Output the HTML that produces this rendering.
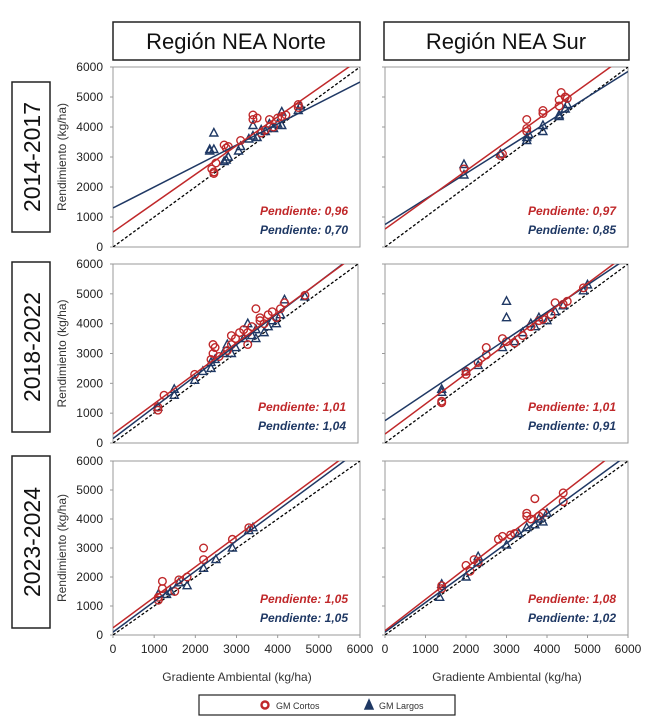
<!DOCTYPE html>
<html><head><meta charset="utf-8">
<style>
body{margin:0;background:#fff;width:653px;height:724px;overflow:hidden;font-family:"Liberation Sans",sans-serif;}
svg{display:block}
</style></head>
<body>
<svg id="chart" width="653" height="724" viewBox="0 0 653 724">
<rect x="113" y="22" width="247" height="38" fill="#fff" stroke="#222" stroke-width="1.5"/>
<text x="236" y="49" text-anchor="middle" font-size="22" fill="#111">Región NEA Norte</text>
<rect x="384" y="22" width="245" height="38" fill="#fff" stroke="#222" stroke-width="1.5"/>
<text x="506" y="49" text-anchor="middle" font-size="22" fill="#111">Región NEA Sur</text>
<rect x="12" y="82" width="38" height="150" fill="#fff" stroke="#222" stroke-width="1.5"/>
<text transform="translate(40,157) rotate(-90)" text-anchor="middle" font-size="23" fill="#111">2014-2017</text>
<rect x="12" y="262" width="38" height="170" fill="#fff" stroke="#222" stroke-width="1.5"/>
<text transform="translate(40,347) rotate(-90)" text-anchor="middle" font-size="23" fill="#111">2018-2022</text>
<rect x="12" y="456" width="38" height="172" fill="#fff" stroke="#222" stroke-width="1.5"/>
<text transform="translate(40,542) rotate(-90)" text-anchor="middle" font-size="23" fill="#111">2023-2024</text>
<text x="237" y="681" text-anchor="middle" font-size="12" fill="#333">Gradiente Ambiental (kg/ha)</text>
<text x="507" y="681" text-anchor="middle" font-size="12" fill="#333">Gradiente Ambiental (kg/ha)</text>
<g>
<rect x="199" y="695" width="256" height="20" fill="#fff" stroke="#222" stroke-width="1.2"/>
<circle cx="265" cy="705" r="3.5" fill="none" stroke="#c0282a" stroke-width="2.4"/>
<text x="276" y="709" font-size="9" fill="#333">GM Cortos</text>
<polygon points="369,700 365,709 373,709" fill="#1f3864" stroke="#1f3864" stroke-width="1.5"/>
<text x="379" y="709" font-size="9" fill="#333">GM Largos</text>
</g>
<g id="panels"></g>
</svg>
<script>
const yTicks = [0,1000,2000,3000,4000,5000,6000];
const xTicks = [0,1000,2000,3000,4000,5000,6000];
const slopesRed = [0.96,0.97,1.01,1.01,1.05,1.08];
const slopesBlue = [0.70,0.85,1.04,0.91,1.05,1.02];
const interceptsRed = [500,600,300,300,250,150];
const interceptsBlue = [1300,750,150,750,100,100];
const slopeLabelsRed = ["0,96","0,97","1,01","1,01","1,05","1,08"];
const slopeLabelsBlue = ["0,70","0,85","1,04","0,91","1,05","1,02"];
const circles0 = [[2400,2600],[2450,2450],[2500,2800],[2450,2500],[2700,3400],[2750,3300],[2800,3350],[3100,3550],[3400,4400],[3400,4250],[3500,4300],[3600,3800],[3700,3900],[3800,4250],[3900,4000],[4000,4300],[4100,4350],[4200,4400],[4500,4750],[4500,4650]];
const triangles0 = [[2350,3200],[2450,3800],[2450,3250],[2350,3250],[2700,2850],[2750,2900],[2800,3000],[3050,3200],[3100,3350],[3300,3600],[3400,3700],[3400,4050],[3500,3650],[3600,3900],[3700,3850],[3800,4100],[3900,3950],[4000,4100],[4100,4500],[4100,4050],[4500,4550],[4550,4700]];
const circles1 = [[1950,2600],[2850,3050],[2900,3100],[3500,4250],[3500,3950],[3500,3850],[3900,4450],[3900,4550],[4300,4700],[4350,5150],[4450,5000],[4500,4950],[4300,4900]];
const triangles1 = [[1950,2750],[1950,2400],[2850,3100],[3500,3650],[3500,3550],[3550,3750],[3900,3850],[3900,4050],[4300,4400],[4300,4350],[4450,4600],[4500,4750]];
const circles2 = [[1100,1200],[1100,1100],[1250,1600],[2000,2300],[2400,2800],[2450,3000],[2450,3300],[2500,3200],[2600,2900],[2800,3100],[2900,3300],[3000,3500],[3100,3700],[3200,3800],[3300,3700],[3400,3900],[3500,4500],[3600,4100],[3600,4200],[3700,4000],[3800,4300],[3900,4400],[4000,4200],[4100,4500],[4200,4700],[4700,4950],[3300,3300],[2900,3600]];
const triangles2 = [[1100,1200],[1500,1600],[1500,1800],[2000,2100],[2200,2400],[2400,2500],[2400,2700],[2500,2800],[2700,3000],[2800,3300],[2900,3000],[3000,3200],[3200,3500],[3300,4000],[3400,3600],[3500,3500],[3500,3800],[3700,3700],[3800,3900],[3900,4100],[4000,4000],[4100,4300],[4200,4800],[4700,4900]];
const circles3 = [[1400,1400],[1400,1350],[2000,2400],[2000,2300],[2300,2700],[2500,3200],[2500,2950],[2900,3500],[3000,3400],[3200,3350],[3400,3600],[3600,3900],[3800,4100],[3900,4150],[4100,4300],[4200,4700],[4400,4650],[4500,4750],[4900,5200]];
const triangles3 = [[1400,1800],[1400,1700],[2000,2400],[2300,2600],[2900,3200],[3000,4750],[3000,4200],[3200,3400],[3400,3700],[3600,4000],[3700,3900],[3800,4200],[4000,4100],[4200,4400],[4400,4600],[4900,5100],[5000,5300]];
const circles4 = [[1100,1300],[1100,1200],[1200,1850],[1200,1600],[1500,1500],[1600,1900],[1800,2000],[2200,3000],[2200,2600],[2900,3300],[3300,3700]];
const triangles4 = [[1100,1400],[1300,1400],[1400,1500],[1600,1800],[1800,1700],[2200,2300],[2500,2600],[2900,3000],[3300,3600],[3400,3700]];
const circles5 = [[1400,1700],[1400,1600],[2000,2400],[2100,2200],[2200,2600],[2300,2500],[2800,3300],[2900,3400],[3100,3450],[3200,3500],[3500,4100],[3500,4200],[3600,4000],[3700,4700],[3800,4100],[3900,4200],[4400,4900],[4400,4600]];
const triangles5 = [[1350,1300],[1400,1750],[2000,2000],[2300,2500],[2300,2700],[3000,3100],[3300,3500],[3500,3700],[3700,3800],[3800,4000],[3900,3900],[4000,4200]];
const allCircles=[circles0,circles1,circles2,circles3,circles4,circles5];
const allTriangles=[triangles0,triangles1,triangles2,triangles3,triangles4,triangles5];

const NS="http://www.w3.org/2000/svg";
const boxes=[
 {x0:113,x1:360,y0:67,y1:247},{x0:385,x1:628,y0:67,y1:247},
 {x0:113,x1:358,y0:264,y1:443},{x0:385,x1:628,y0:264,y1:443},
 {x0:113,x1:360,y0:461,y1:635},{x0:385,x1:628,y0:461,y1:635}];
const RED="#c0282a",BLUE="#1f3864";
const root=document.getElementById('panels');
function mk(tag,attrs,parent){const e=document.createElementNS(NS,tag);for(const k in attrs)e.setAttribute(k,attrs[k]);parent.appendChild(e);return e;}
boxes.forEach((b,i)=>{
 const g=mk('g',{},root);
 
 
 const sx=v=>b.x0+(v/6000)*(b.x1-b.x0);
 const sy=v=>b.y1-(v/6000)*(b.y1-b.y0);
 const cp='cp'+i;
 const d=mk('clipPath',{id:cp},g);mk('rect',{x:b.x0,y:b.y0,width:b.x1-b.x0,height:b.y1-b.y0},d);
 const fr=mk('rect',{x:b.x0,y:b.y0,width:b.x1-b.x0,height:b.y1-b.y0,fill:'#fff',stroke:'#999','stroke-width':1},g);
 
 
 const left=(i%2===0);
 yTicks.forEach(t=>{
  mk('line',{x1:b.x0-3,x2:b.x0,y1:sy(t),y2:sy(t),stroke:'#999'},g);
  if(left){const tx=mk('text',{x:b.x0-10,y:sy(t)+4,'text-anchor':'end','font-size':12,fill:'#222'},g);tx.textContent=t;
   
   }
 });
 if(left){const yt=mk('text',{transform:`translate(${b.x0-47},${(b.y0+b.y1)/2}) rotate(-90)`,'text-anchor':'middle','font-size':12,fill:'#333'},g);yt.textContent='Rendimiento (kg/ha)';
  
  }
 if(i>=4){xTicks.forEach(t=>{mk('line',{x1:sx(t),x2:sx(t),y1:b.y1,y2:b.y1+3,stroke:'#999'},g);
  const tx=mk('text',{x:sx(t),y:b.y1+18,'text-anchor':'middle','font-size':12,fill:'#222'},g);tx.textContent=t;
  
  });}
 const cg=mk('g',{'clip-path':`url(#${cp})`},g);
 const l1=mk('line',{x1:sx(0),y1:sy(0),x2:sx(6000),y2:sy(6000),stroke:'#000','stroke-width':1.3,'stroke-dasharray':'3,2'},cg);
 
 
 allTriangles[i].forEach(p=>{const x=sx(p[0]),y=sy(p[1]);
  const t=mk('polygon',{points:`${x},${y-4.5} ${x-4},${y+3} ${x+4},${y+3}`,fill:'none',stroke:BLUE,'stroke-width':1.4},cg);
  
  });
 allCircles[i].forEach(p=>{
  const c=mk('circle',{cx:sx(p[0]),cy:sy(p[1]),r:3.8,fill:'none',stroke:RED,'stroke-width':1.4},cg);
  
  });
 const lb=mk('line',{x1:sx(0),y1:sy(interceptsBlue[i]),x2:sx(6000),y2:sy(interceptsBlue[i]+slopesBlue[i]*6000),stroke:BLUE,'stroke-width':1.5},cg);
 
 
 const lr=mk('line',{x1:sx(0),y1:sy(interceptsRed[i]),x2:sx(6000),y2:sy(interceptsRed[i]+slopesRed[i]*6000),stroke:RED,'stroke-width':1.5},cg);
 
 
 const tr=mk('text',{x:b.x1-12,y:b.y1-32,'text-anchor':'end','font-size':12,'font-weight':'bold','font-style':'italic',fill:RED},g);tr.textContent='Pendiente: '+slopeLabelsRed[i];
 
 
 const tb=mk('text',{x:b.x1-12,y:b.y1-13,'text-anchor':'end','font-size':12,'font-weight':'bold','font-style':'italic',fill:BLUE},g);tb.textContent='Pendiente: '+slopeLabelsBlue[i];
 
 
});
</script>
</body></html>
